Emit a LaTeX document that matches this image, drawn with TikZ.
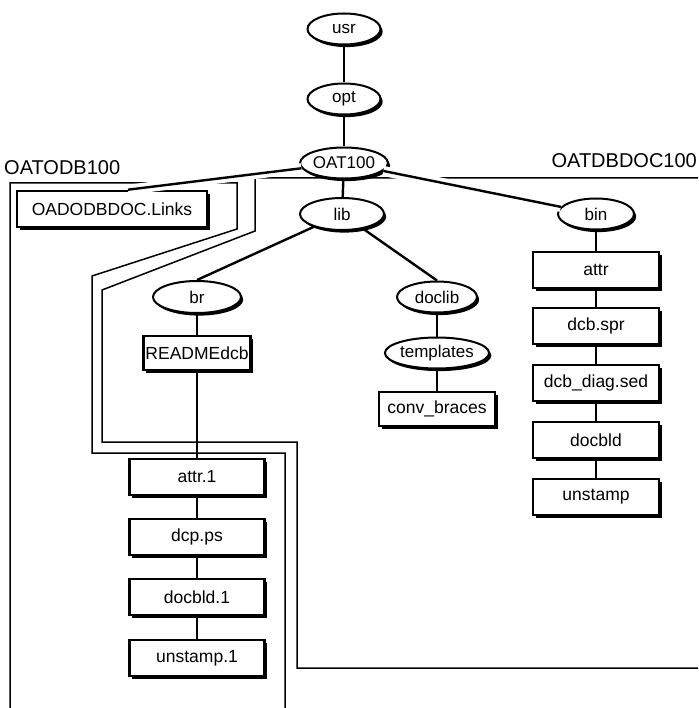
\documentclass[tikz,border=0pt]{standalone}
\usepackage{fontspec}
\setmainfont{Liberation Sans}
\usetikzlibrary{shapes.geometric,shadows}
\begin{document}
\begin{tikzpicture}[x=1pt,y=-1pt,
  dirnode/.style={ellipse, draw, line width=2pt, fill=white, inner sep=0pt,
    minimum height=31pt, font=\fontsize{17}{20}\selectfont,
    drop shadow={shadow xshift=2.2pt, shadow yshift=-2.6pt, fill=black, opacity=1}},
  filebox/.style={rectangle, draw, line width=2.6pt, fill=white, inner sep=0pt,
    minimum height=36pt, font=\fontsize{17.5}{20}\selectfont,
    drop shadow={shadow xshift=2.6pt, shadow yshift=-3pt, fill=black, opacity=1}},
  link/.style={line width=2.4pt},
  gaplink/.style={line width=2.4pt, preaction={draw=white, line width=10pt}},
  region/.style={line width=1.5pt},
  regionlabel/.style={font=\fontsize{20}{24}\selectfont, inner sep=0pt}]
\useasboundingbox (0,0) rectangle (698,708);

% package boundaries
\draw[region] (10,708) -- (10,183) -- (237,183) -- (237,229) -- (92,276)
  -- (92,453) -- (285,453) -- (285,708);
\draw[region] (698,178) -- (255,178) -- (255,231) -- (102,290)
  -- (102,442) -- (297,442) -- (297,668) -- (698,668);
\node[regionlabel, anchor=west] (odb) at (4,168) {OATODB100};
\node[regionlabel, anchor=east] (dbdoc) at (697,161) {OATDBDOC100};

% directories
\node[dirnode, minimum width=73pt] (usr) at (344,29) {usr};
\node[dirnode, minimum width=73pt] (opt) at (344,99) {opt};
\node[dirnode, minimum width=80pt] (oat) at (344,163) {OAT100};
\node[dirnode, minimum width=84pt, minimum height=32pt] (lib) at (342,214) {lib};
\node[dirnode, minimum width=76pt] (bin) at (596,214) {bin};
\node[dirnode, minimum width=88pt, minimum height=32pt] (br) at (197,297) {br};
\node[dirnode, minimum width=80pt] (doclib) at (437,297) {doclib};
\node[dirnode, minimum width=82pt] (templates) at (437,353) {templates};

% files
\node[filebox, minimum width=190pt] (links) at (112,209) {OADODBDOC.Links};
\node[filebox, minimum width=107pt, minimum height=34pt] (readme) at (197,353) {READMEdcb};
\node[filebox, minimum width=116pt, minimum height=34pt] (conv) at (437,409) {conv\_braces};
\node[filebox, minimum width=135pt] (attrone) at (197,477) {attr.1};
\node[filebox, minimum width=135pt] (dcp) at (197,537) {dcp.ps};
\node[filebox, minimum width=135pt] (docbldone) at (197,597) {docbld.1};
\node[filebox, minimum width=135pt] (unstampone) at (197,658) {unstamp.1};
\node[filebox, minimum width=126pt] (attr) at (596,270) {attr};
\node[filebox, minimum width=126pt] (dcbspr) at (596,326) {dcb.spr};
\node[filebox, minimum width=126pt] (diag) at (596,383) {dcb\_diag.sed};
\node[filebox, minimum width=126pt] (docbld) at (596,440) {docbld};
\node[filebox, minimum width=126pt] (unstamp) at (596,497) {unstamp};

% tree connectors
\draw[link] (usr) -- (opt);
\draw[link] (opt) -- (oat);
\draw[link] (oat) -- (lib);
\draw[gaplink] (oat) -- ([xshift=16pt]links.north);
\draw[gaplink] (oat) -- (bin);
\draw[link] (lib) -- (br.north);
\draw[link] (lib) -- (doclib.north);
\draw[link] (doclib) -- (templates);
\draw[link] (templates) -- (conv);
\draw[link] (br) -- (readme);
\draw[link] (readme) -- (attrone);
\draw[link] (attrone) -- (dcp);
\draw[link] (dcp) -- (docbldone);
\draw[link] (docbldone) -- (unstampone);
\draw[link] (bin) -- (attr);
\draw[link] (attr) -- (dcbspr);
\draw[link] (dcbspr) -- (diag);
\draw[link] (diag) -- (docbld);
\draw[link] (docbld) -- (unstamp);
\end{tikzpicture}
\end{document}
